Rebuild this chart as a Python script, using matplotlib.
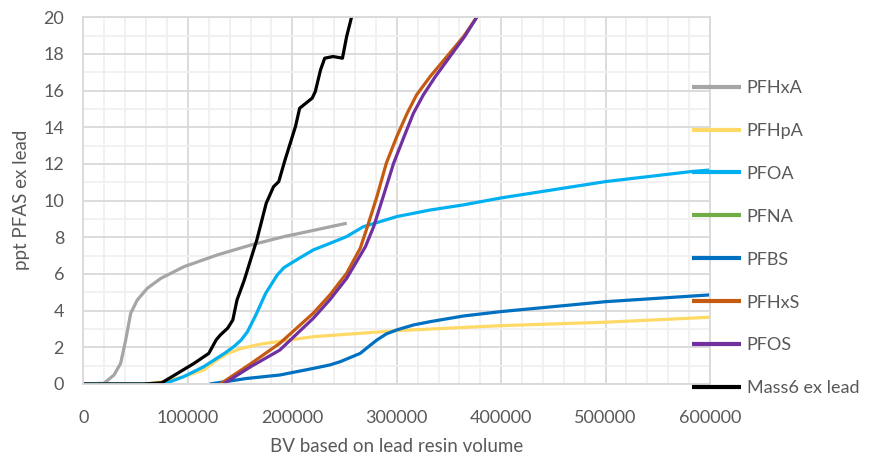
import matplotlib
matplotlib.use("Agg")
import matplotlib.pyplot as plt
from matplotlib.ticker import MultipleLocator

plt.rcParams['font.family'] = ['Lato', 'DejaVu Sans']

# ---- data ----
pfhxa_x = [0, 19600, 29200, 35600, 40400, 45200, 51500, 61100, 74000, 96300, 128200, 160200, 192100, 222000, 252100]
pfhxa_y = [0, 0.04, 0.49, 1.13, 2.4, 3.86, 4.58, 5.22, 5.76, 6.4, 7.04, 7.58, 8.04, 8.4, 8.77]

pfhpa_x = [0, 60000, 77000, 96000, 115000, 128000, 138000, 151000, 170000, 192000, 220000, 300000, 399000, 500000, 600000]
pfhpa_y = [0, 0, 0.13, 0.4, 0.76, 1.31, 1.67, 1.94, 2.18, 2.36, 2.58, 2.91, 3.18, 3.37, 3.64]

pfoa_x = [0, 77000, 96000, 115000, 135000, 144000, 151000, 157000, 165000, 174500, 185600, 192000, 204000,
          220000, 236000, 252000, 268000, 300000, 332000, 364000, 400000, 500000, 581000, 600000]
pfoa_y = [0, 0, 0.4, 0.94, 1.67, 2.04, 2.4, 2.85, 3.76, 4.95, 5.95, 6.35, 6.77,
          7.31, 7.67, 8.04, 8.58, 9.13, 9.49, 9.77, 10.15, 11.04, 11.58, 11.67]

pfna_x = []
pfna_y = []

pfbs_x = [121000, 156000, 188000, 204000, 220000, 236000, 246000, 265000, 273000, 281000, 290000, 300000,
          316000, 332000, 364000, 400000, 500000, 600000]
pfbs_y = [0, 0.3, 0.49, 0.67, 0.85, 1.04, 1.22, 1.67, 2.04, 2.4, 2.73, 2.95,
          3.22, 3.4, 3.71, 3.95, 4.49, 4.86]

pfhxs_x = [131000, 160000, 188000, 204000, 220000, 236000, 252000, 265000, 272000, 281000, 290000, 300000,
           310000, 319000, 332000, 348000, 364000, 377000]
pfhxs_y = [0, 1.1, 2.22, 3.04, 3.86, 4.86, 6.04, 7.4, 8.6, 10.22, 12.04, 13.49,
           14.77, 15.77, 16.77, 17.86, 18.95, 20.04]

pfos_x = [134000, 160000, 188000, 220000, 236000, 252000, 270000, 278000, 287000, 297000, 307000, 316000,
          325500, 337000, 351000, 365000, 377000]
pfos_y = [0, 0.94, 1.85, 3.58, 4.6, 5.76, 7.49, 8.6, 10.22, 12.04, 13.49, 14.77,
          15.77, 16.77, 17.86, 18.95, 20.04]

mass6_x = [0, 58000, 75000, 90000, 106000, 120000, 127000, 131000, 138000, 143000, 147000, 154000, 160000,
           166000, 175000, 182000, 187000, 193000, 198000, 203000, 207000, 219000, 222000, 227000, 231000,
           239000, 248000, 252000, 258000]
mass6_y = [0, 0, 0.07, 0.58, 1.13, 1.67, 2.4, 2.67, 3.04, 3.49, 4.58, 5.67, 6.77,
           7.86, 9.86, 10.76, 11.04, 12.22, 13.13, 14.04, 15.04, 15.59, 15.95, 17.13, 17.77,
           17.86, 17.77, 18.95, 20.3]

series = [
    ("PFHxA", pfhxa_x, pfhxa_y, "#A5A5A5"),
    ("PFHpA", pfhpa_x, pfhpa_y, "#FFD966"),
    ("PFOA", pfoa_x, pfoa_y, "#00B0F0"),
    ("PFNA", pfna_x, pfna_y, "#70AD47"),
    ("PFBS", pfbs_x, pfbs_y, "#0070C0"),
    ("PFHxS", pfhxs_x, pfhxs_y, "#C55A11"),
    ("PFOS", pfos_x, pfos_y, "#7030A0"),
    ("Mass6 ex lead", mass6_x, mass6_y, "#000000"),
]

W, H = 879, 461
fig = plt.figure(figsize=(W / 100, H / 100), dpi=100)
ax = fig.add_axes([83.5 / W, 1 - 384 / H, (710 - 83.5) / W, (384 - 17.3) / H])

for name, xs, ys, c in series:
    ax.plot(xs, ys, color=c, lw=2.3, label=name, solid_capstyle='butt', solid_joinstyle='round')

ax.set_xlim(0, 600000)
ax.set_ylim(0, 20)
ax.xaxis.set_major_locator(MultipleLocator(100000))
ax.xaxis.set_minor_locator(MultipleLocator(20000))
ax.yaxis.set_major_locator(MultipleLocator(2))
ax.yaxis.set_minor_locator(MultipleLocator(1))
ax.grid(which='major', color='#D9D9D9', lw=1.3, zorder=0)
ax.grid(which='minor', color='#F0F0F0', lw=1.3, zorder=0)
ax.set_axisbelow(True)
for s in ax.spines.values():
    s.set_color('#D9D9D9')
    s.set_linewidth(1.3)
ax.tick_params(which='both', length=0, labelsize=13, labelcolor='#595959')
ax.tick_params(axis='x', pad=19)
ax.tick_params(axis='y', pad=14)
ax.set_xticklabels([str(int(v)) for v in ax.get_xticks()])

fig.text(22 / W, 1 - 200 / H, "ppt PFAS ex lead", rotation=90, ha='center', va='center',
         fontsize=13.5, color='#595959')
fig.text(397 / W, 1 - 446 / H, "BV based on lead resin volume", ha='center', va='center',
         fontsize=13.5, color='#595959')

leg = ax.legend(loc='upper left', bbox_to_anchor=(691.7 / W, 1 - 80 / H), bbox_transform=fig.transFigure,
                frameon=False, fontsize=13, handlelength=2.75, handletextpad=0.3, labelspacing=1.49,
                borderpad=0, borderaxespad=0)
for t in leg.get_texts():
    t.set_color('#595959')
for l in leg.get_lines():
    l.set_linewidth(3)

fig.savefig("out.png", dpi=100)
